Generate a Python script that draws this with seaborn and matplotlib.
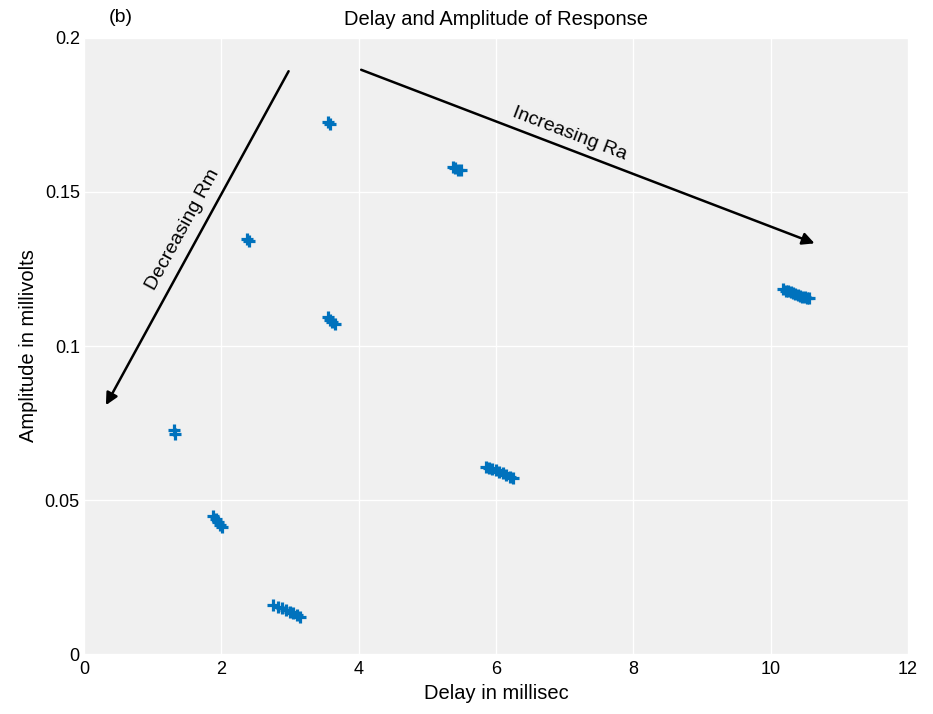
import numpy as np
import pandas as pd
import seaborn as sns
import matplotlib.pyplot as plt

# response clusters: delay (ms), amplitude (mV)
delay_a = [10.18, 10.22, 10.26, 10.30, 10.33, 10.36, 10.40, 10.43, 10.46, 10.50, 10.53, 10.56]
amp_a = [0.1185, 0.1180, 0.1178, 0.1175, 0.1172, 0.1170, 0.1165, 0.1162, 0.1160, 0.1158, 0.1156, 0.1155]
delay_b = [5.85, 5.90, 5.95, 6.00, 6.05, 6.10, 6.15, 6.20, 6.25]
amp_b = [0.0608, 0.0605, 0.0600, 0.0596, 0.0592, 0.0588, 0.0582, 0.0576, 0.0572]
delay_c = [2.75, 2.82, 2.88, 2.94, 3.00, 3.05, 3.10, 3.15]
amp_c = [0.0158, 0.0152, 0.0148, 0.0143, 0.0137, 0.0132, 0.0127, 0.0120]
delay_d = [1.88, 1.92, 1.95, 1.98, 2.01]
amp_d = [0.0448, 0.0438, 0.0430, 0.0420, 0.0412]
delay_e = [1.31, 1.33]
amp_e = [0.0727, 0.0715]
delay_f = [2.38, 2.41]
amp_f = [0.1348, 0.1342]
delay_g = [3.55, 3.58, 3.62, 3.66]
amp_g = [0.1093, 0.1085, 0.1078, 0.1071]
delay_h = [3.56, 3.59]
amp_h = [0.1728, 0.1722]
delay_i = [5.37, 5.41, 5.45, 5.49]
amp_i = [0.1582, 0.1577, 0.1573, 0.1570]

xticks = [0, 2, 4, 6, 8, 10, 12]
yticks = [0, 0.05, 0.1, 0.15, 0.2]
ytick_labels = ["0", "0.05", "0.1", "0.15", "0.2"]

df = pd.DataFrame({
    "delay": delay_a + delay_b + delay_c + delay_d + delay_e + delay_f + delay_g + delay_h + delay_i,
    "amp": amp_a + amp_b + amp_c + amp_d + amp_e + amp_f + amp_g + amp_h + amp_i,
})

sns.set_theme(style="darkgrid", rc={"axes.facecolor": "#f0f0f0", "grid.color": "white",
                                    "grid.linewidth": 1.0, "text.color": "black",
                                    "axes.labelcolor": "black", "xtick.color": "black",
                                    "ytick.color": "black"})
plt.rcParams["font.family"] = ["Liberation Sans", "DejaVu Sans"]

fig = plt.figure(figsize=(9.33, 7.14), dpi=100)
ax = fig.add_axes([0.09, 0.084, 0.883, 0.8628])

sns.scatterplot(data=df, x="delay", y="amp", marker="+", s=65, color="#0072bd",
                linewidth=2.3, ax=ax, legend=False)

ax.set_xlim(0, 12)
ax.set_ylim(0, 0.2)
ax.set_xticks(xticks)
ax.set_xticklabels([str(t) for t in xticks])
ax.set_yticks(yticks)
ax.set_yticklabels(ytick_labels)
ax.tick_params(axis="x", labelsize=13, length=0, pad=5)
ax.tick_params(axis="y", labelsize=13, length=0, pad=3)
for s in ax.spines.values():
    s.set_visible(False)

ax.set_xlabel("Delay in millisec", fontsize=14.5, labelpad=4)
ax.set_ylabel("Amplitude in millivolts", fontsize=14.5, labelpad=5)
ax.set_title("Delay and Amplitude of Response", fontsize=14.5, pad=9)
fig.text(0.129, 0.976, "(b)", fontsize=14, ha="center", va="center")

arrow = dict(arrowstyle="-|>", color="black", lw=1.8, mutation_scale=18)
ax.annotate("", xy=(0.3, 0.08), xytext=(3.0, 0.19), arrowprops=arrow)
ax.annotate("", xy=(10.68, 0.133), xytext=(4.0, 0.19), arrowprops=arrow)
ax.text(1.44, 0.1377, "Decreasing Rm", rotation=61.4, fontsize=14,
        ha="center", va="center")
ax.text(7.08, 0.169, "Increasing Ra", rotation=-21, fontsize=14,
        ha="center", va="center")

fig.savefig("out.png", dpi=100)
